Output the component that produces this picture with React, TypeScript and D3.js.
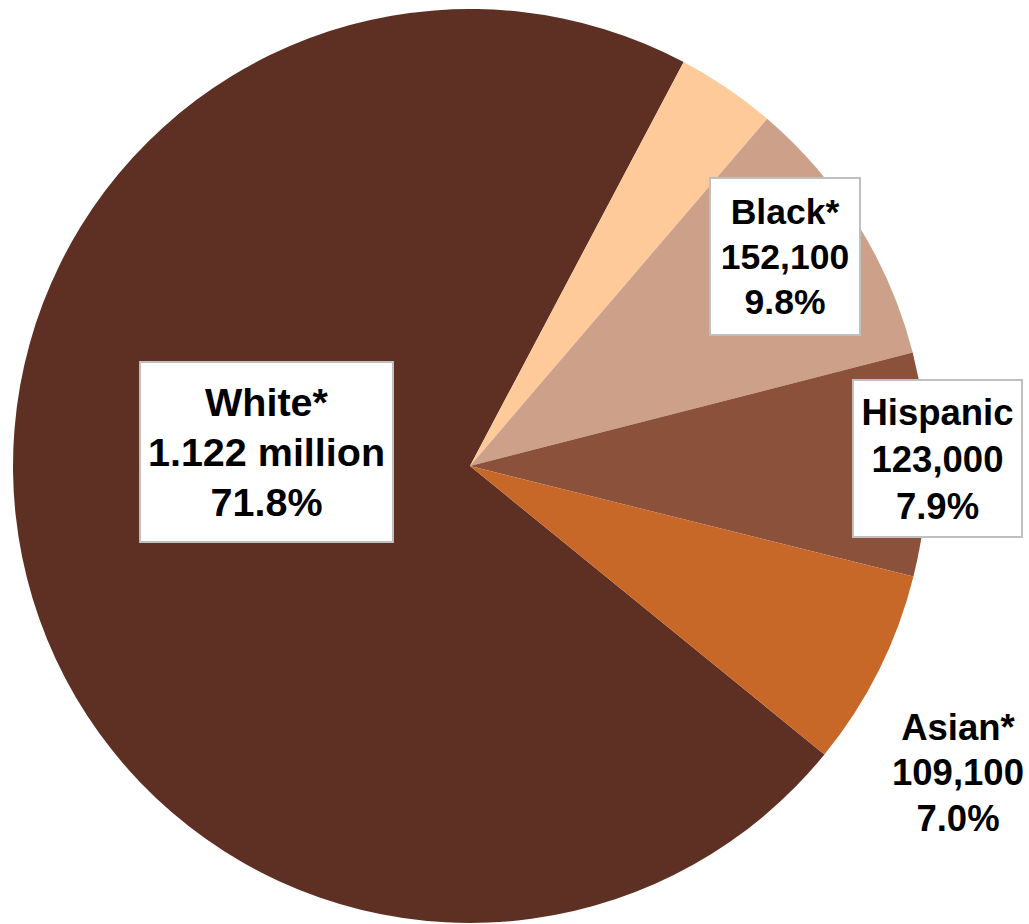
import React from "react";
import * as d3 from "d3";

const categories = ["White*", "Other", "Black*", "Hispanic", "Asian*"];
const values = [1122000, 55000, 152100, 123000, 109100];
const valueLabels = ["1.122 million", "", "152,100", "123,000", "109,100"];
const percentLabels = ["71.8%", "", "9.8%", "7.9%", "7.0%"];
const colors = ["#5E3024", "#FFCA99", "#CDA189", "#8B513B", "#C86828"];

// label layout: center (relative to pie center), box size, font size, line gap
const labelLayout = [
  { dx: -203.5, dy: -14, w: 253, h: 180, fs: 39.5, gap: 50, box: true },
  null,
  { dx: 315, dy: -209.5, w: 150, h: 157, fs: 35.5, gap: 45, box: true },
  { dx: 467.5, dy: -7.5, w: 169, h: 157, fs: 36.5, gap: 47, box: true },
  { dx: 488, dy: 306, w: 0, h: 0, fs: 36.5, gap: 45.5, box: false },
];

const W = 1029;
const H = 924;
const cx = 470;
const cy = 466;
const R = 457;
const startDeg = 129.15;

export default function App() {
  const start = (startDeg * Math.PI) / 180;
  const pie = d3
    .pie<number>()
    .sort(null)
    .value((d) => d)
    .startAngle(start)
    .endAngle(start + 2 * Math.PI);
  const arcs = pie(values);
  const arc = d3.arc<d3.PieArcDatum<number>>().innerRadius(0).outerRadius(R);

  return (
    <svg
      width={W}
      height={H}
      style={{ position: "absolute", left: 0, top: 0, background: "#fff" }}
      fontFamily="'Liberation Sans', Arial, sans-serif"
    >
      <g transform={`translate(${cx},${cy})`}>
        {arcs.map((a, i) => (
          <path key={i} d={arc(a) || ""} fill={colors[i]} />
        ))}
        {arcs.map((a, i) => {
          const L = labelLayout[i];
          if (!L) return null;
          const lines = [categories[i], valueLabels[i], percentLabels[i]];
          const capH = L.fs * 0.716;
          const firstBase = L.dy - L.gap + capH / 2;
          return (
            <g key={"l" + i}>
              {L.box && (
                <rect
                  x={L.dx - L.w / 2}
                  y={L.dy - L.h / 2}
                  width={L.w}
                  height={L.h}
                  fill="#fff"
                  stroke="#BFBFBF"
                  strokeWidth={2}
                />
              )}
              {lines.map((t, j) => (
                <text
                  key={j}
                  x={L.dx}
                  y={firstBase + j * L.gap}
                  textAnchor="middle"
                  fontWeight="bold"
                  fontSize={L.fs}
                  fill="#000"
                >
                  {t}
                </text>
              ))}
            </g>
          );
        })}
      </g>
    </svg>
  );
}
